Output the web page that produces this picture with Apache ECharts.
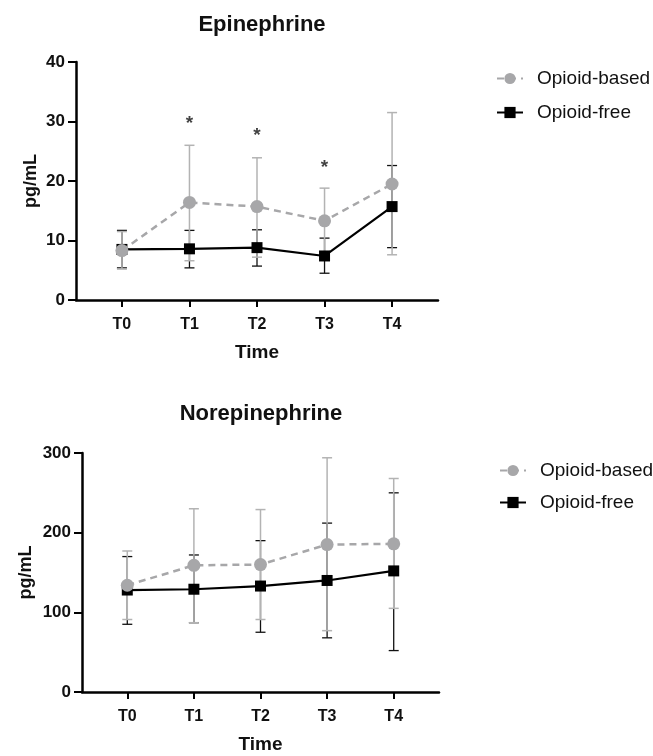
<!DOCTYPE html>
<html>
<head>
<meta charset="utf-8">
<script src="https://cdn.jsdelivr.net/npm/echarts@6/dist/echarts.min.js"></script>
<style>html,body{margin:0;padding:0;background:#fff}#c{width:653px;height:756px}</style>
</head>
<body>
<div id="c"></div>
<script>
const categories = ['T0', 'T1', 'T2', 'T3', 'T4'];
const xIndex = [0, 1, 2, 3, 4];

// Epinephrine (pg/mL)
const epiBasedMean = [8.3, 16.4, 15.7, 13.3, 19.5];
const epiBasedLow  = [5.2, 6.6, 7.2, 8.0, 7.6];
const epiBasedHigh = [11.5, 26.0, 23.9, 18.8, 31.5];
const epiFreeMean  = [8.5, 8.6, 8.8, 7.4, 15.7];
const epiFreeLow   = [5.4, 5.4, 5.7, 4.5, 8.8];
const epiFreeHigh  = [11.7, 11.7, 11.8, 10.4, 22.6];
const epiStars     = [30.3, 28.3, 22.9];
const epiStarX     = [1, 2, 3];

// Norepinephrine (pg/mL)
const norBasedMean = [134, 159, 160, 185, 186];
const norBasedLow  = [91, 87, 91, 77, 105];
const norBasedHigh = [177, 230, 229, 294, 268];
const norFreeMean  = [128, 129, 133, 140, 152];
const norFreeLow   = [85, 87, 75, 68, 52];
const norFreeHigh  = [170, 172, 190, 212, 250];

const epiTicks = { min: 0, max: 40, interval: 10 };
const norTicks = { min: 0, max: 300, interval: 100 };

const GRAY = '#a7a7a9';
const GRAY_BAR = '#b3b3b3';
const BLACK = '#000000';
const FONT = 'Liberation Sans, Arial, Helvetica, sans-serif';

function errRender(color, width, capHalf) {
  return function (params, api) {
    const x = api.value(0), lo = api.value(1), hi = api.value(2);
    const pLo = api.coord([x, lo]);
    const pHi = api.coord([x, hi]);
    const st = { stroke: color, lineWidth: width };
    return {
      type: 'group',
      children: [
        { type: 'line', shape: { x1: pLo[0], y1: pLo[1], x2: pHi[0], y2: pHi[1] }, style: st },
        { type: 'line', shape: { x1: pHi[0] - capHalf, y1: pHi[1], x2: pHi[0] + capHalf, y2: pHi[1] }, style: st },
        { type: 'line', shape: { x1: pLo[0] - capHalf, y1: pLo[1], x2: pLo[0] + capHalf, y2: pLo[1] }, style: st }
      ]
    };
  };
}

function errData(lo, hi) { return xIndex.map((x, i) => [x, lo[i], hi[i]]); }
function lineData(m) { return xIndex.map((x, i) => [x, m[i]]); }

function xAxisOpt(gi) {
  return {
    type: 'value', gridIndex: gi, min: -0.68, max: 4.68,
    name: 'Time', nameLocation: 'middle', nameGap: 43, nameMoveOverlap: false,
    nameTextStyle: { fontFamily: FONT, fontWeight: 'bold', fontSize: 19, color: '#111' },
    axisLine: { show: true, onZero: false, lineStyle: { color: BLACK, width: 2.5 } },
    axisTick: { show: true, customValues: xIndex, length: 7, lineStyle: { color: BLACK, width: 2 } },
    axisLabel: { customValues: xIndex, formatter: v => categories[Math.round(v)], margin: 17,
      fontFamily: FONT, fontWeight: 'bold', fontSize: 16, color: '#111' },
    splitLine: { show: false }
  };
}
function yAxisOpt(gi, t, gap) {
  return {
    type: 'value', gridIndex: gi, min: t.min, max: t.max, interval: t.interval,
    name: 'pg/mL', nameLocation: 'middle', nameGap: gap, nameMoveOverlap: false,
    nameTextStyle: { fontFamily: FONT, fontWeight: 'bold', fontSize: 18, color: '#111' },
    axisLine: { show: true, onZero: false, lineStyle: { color: BLACK, width: 2.5 } },
    axisTick: { show: true, length: 8, lineStyle: { color: BLACK, width: 2 } },
    axisLabel: { margin: 11, fontFamily: FONT, fontWeight: 'bold', fontSize: 17, color: '#111' },
    splitLine: { show: false }
  };
}

function seriesFor(gi, bM, bL, bH, fM, fL, fH) {
  return [
    { type: 'custom', name: 'errFree' + gi, xAxisIndex: gi, yAxisIndex: gi, renderItem: errRender('#111', 1.3, 5),
      data: errData(fL, fH), encode: { x: 0, y: [1, 2] }, silent: true, z: 1 },
    { type: 'custom', name: 'errBased' + gi, xAxisIndex: gi, yAxisIndex: gi, renderItem: errRender(GRAY_BAR, 1.5, 5),
      data: errData(bL, bH), encode: { x: 0, y: [1, 2] }, silent: true, z: 2 },
    { type: 'line', name: 'Opioid-free', xAxisIndex: gi, yAxisIndex: gi, data: lineData(fM),
      symbol: 'rect', symbolSize: 11, itemStyle: { color: BLACK },
      lineStyle: { color: BLACK, width: 2.2 }, z: 3, animation: false },
    { type: 'line', name: 'Opioid-based', xAxisIndex: gi, yAxisIndex: gi, data: lineData(bM),
      symbol: 'circle', symbolSize: 13, itemStyle: { color: GRAY },
      lineStyle: { color: GRAY, width: 2.5, type: [7, 5] }, z: 4, animation: false }
  ];
}

const legendCommon = {
  orient: 'vertical', itemWidth: 26, itemHeight: 14,
  data: ['Opioid-based', 'Opioid-free'],
  textStyle: { fontFamily: FONT, fontSize: 19, color: '#111', padding: [0, 0, 0, 9] }
};

const option = {
  animation: false,
  title: [
    { text: 'Epinephrine', left: 257, top: 9, textAlign: 'center',
      textStyle: { fontFamily: FONT, fontWeight: 'bold', fontSize: 22, color: '#111' } },
    { text: 'Norepinephrine', left: 256, top: 398, textAlign: 'center',
      textStyle: { fontFamily: FONT, fontWeight: 'bold', fontSize: 22, color: '#111' } }
  ],
  legend: [
    Object.assign({}, legendCommon, { left: 491, top: 64, itemGap: 15 }),
    Object.assign({}, legendCommon, { left: 494, top: 456, itemGap: 13 })
  ],
  grid: [
    { left: 76, width: 362, top: 62, height: 238 },
    { left: 82, width: 357, top: 453, height: 239 }
  ],
  xAxis: [xAxisOpt(0), xAxisOpt(1)],
  yAxis: [yAxisOpt(0, epiTicks, 36), yAxisOpt(1, norTicks, 47)],
  series: [
    ...seriesFor(0, epiBasedMean, epiBasedLow, epiBasedHigh, epiFreeMean, epiFreeLow, epiFreeHigh),
    ...seriesFor(1, norBasedMean, norBasedLow, norBasedHigh, norFreeMean, norFreeLow, norFreeHigh),
    { type: 'scatter', name: 'stars', xAxisIndex: 0, yAxisIndex: 0, symbolSize: 1,
      itemStyle: { color: 'rgba(0,0,0,0)' },
      data: epiStarX.map((x, i) => [x, epiStars[i]]),
      label: { show: true, position: 'inside', formatter: '*', fontFamily: FONT, fontWeight: 'bold', fontSize: 19, color: '#111', offset: [0, 4] },
      z: 5, silent: true }
  ]
};

const chart = echarts.init(document.getElementById('c'), null, { renderer: 'canvas' });
chart.setOption(option);
</script>
</body>
</html>
